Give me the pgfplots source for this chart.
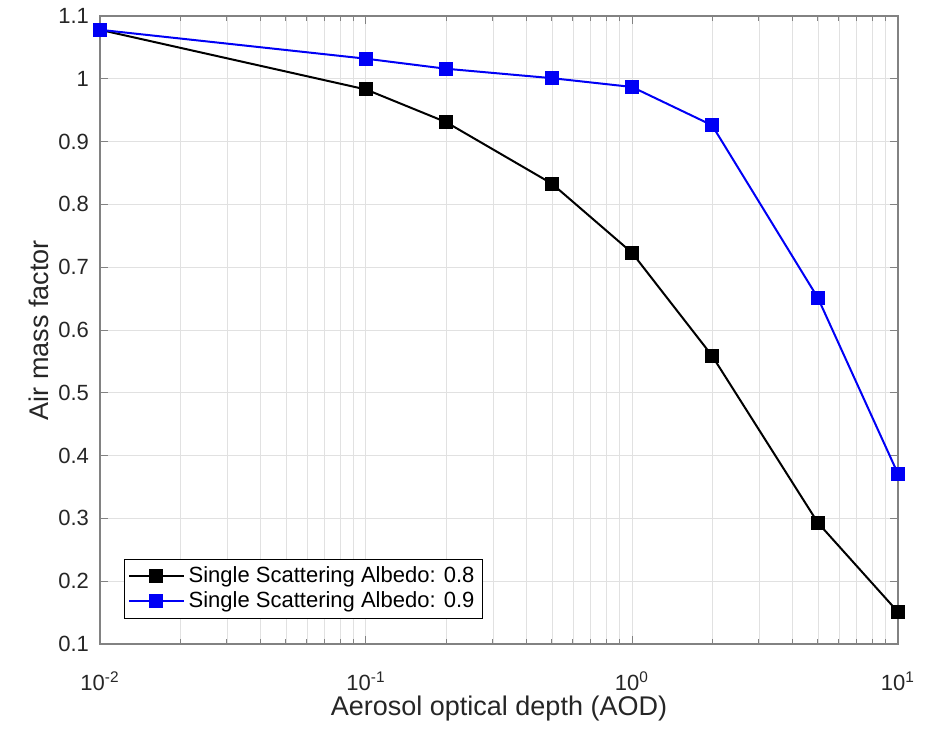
\documentclass[border=0pt]{standalone}
\usepackage{fontspec}
\setmainfont{Liberation Sans}
\usepackage{pgfplots}
\pgfplotsset{compat=1.18}
\definecolor{axgray}{RGB}{130,130,130}
\definecolor{gridgray}{RGB}{225,225,225}
\definecolor{txt}{RGB}{38,38,38}
\definecolor{mblue}{RGB}{0,0,245}
\begin{document}
\begin{tikzpicture}
\begin{axis}[
  scale only axis, width=399pt, height=314pt,
  xmode=log, xmin=0.01, xmax=10, ymin=0.1, ymax=1.1,
  xtick={0.01,0.1,1,10},
  xticklabels={10\textsuperscript{-2},10\textsuperscript{-1},10\textsuperscript{0},10\textsuperscript{1}},
  minor xtick={0.02,0.03,0.04,0.05,0.06,0.07,0.08,0.09,0.2,0.3,0.4,0.5,0.6,0.7,0.8,0.9,2,3,4,5,6,7,8,9},
  ytick={0.1,0.2,0.3,0.4,0.5,0.6,0.7,0.8,0.9,1,1.1},
  yticklabels={0.1,0.2,0.3,0.4,0.5,0.6,0.7,0.8,0.9,1,1.1},
  grid=both,
  major grid style={gridgray, line width=0.5pt},
  minor grid style={gridgray, line width=0.4pt},
  tick align=inside,
  major tick length=4pt, minor tick length=2.5pt,
  axis line style={axgray, line width=0.6pt},
  every tick/.style={axgray, line width=0.5pt},
  tick label style={font=\fontsize{11}{11}\selectfont, text=txt},
  xticklabel style={yshift=-10.5pt},
  yticklabel style={xshift=-2pt},
  label style={font=\fontsize{13.5}{14}\selectfont, text=txt},
  xlabel={Aerosol optical depth (AOD)},
  ylabel={Air mass factor},
  xlabel style={yshift=4.5pt},
  ylabel style={yshift=-2pt},
  legend style={at={(rel axis cs:0.03,0.04)}, anchor=south west,
    font=\fontsize{11}{12.5}\selectfont, text=black, draw=black, line width=0.5pt,
    inner sep=1.8pt, row sep=-1pt},
  legend cell align=left,
  legend image code/.code={\draw[mark repeat=2,mark phase=2] plot coordinates {(0cm,0cm)(0.48cm,0cm)(0.96cm,0cm)};},
]
\addplot[black, line width=1pt, mark=square*, mark size=3pt, mark options={solid}]
  coordinates {(0.01,1.078) (0.1,0.983) (0.2,0.931) (0.5,0.833) (1,0.723) (2,0.559) (5,0.293) (10,0.151)};
\addlegendentry{Single Scattering Albedo: 0.8}
\addplot[mblue, line width=1pt, mark=square*, mark size=3pt, mark options={solid}]
  coordinates {(0.01,1.078) (0.1,1.032) (0.2,1.016) (0.5,1.001) (1,0.987) (2,0.926) (5,0.651) (10,0.371)};
\addlegendentry{Single Scattering Albedo: 0.9}
\end{axis}
\useasboundingbox ([shift={(-50pt,-42pt)}]current axis.south west) rectangle ([shift={(17pt,8pt)}]current axis.north east);
\end{tikzpicture}
\end{document}
